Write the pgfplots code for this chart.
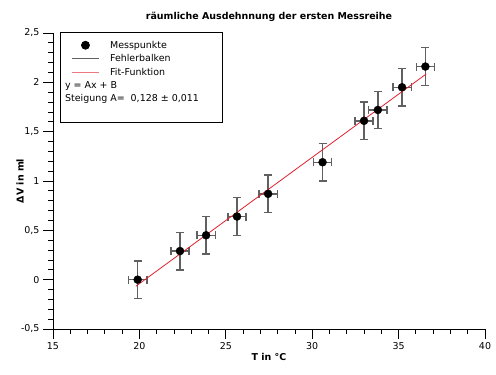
\documentclass[border=0pt]{standalone}
\usepackage{fontspec}
\setmainfont{DejaVu Sans}
\usepackage{pgfplots}
\pgfplotsset{compat=1.18}
\definecolor{fitred}{HTML}{E0202E}
\definecolor{errgray}{HTML}{606060}
\pgfplotstableread{
T V
19.9 0.0
22.35 0.29
23.86 0.45
25.65 0.64
27.45 0.87
30.6 1.19
33.0 1.61
33.8 1.72
35.2 1.95
36.55 2.16
}\messdata
\begin{document}
\begin{tikzpicture}
\begin{axis}[name=ax, at={(0,0)}, anchor=south west,
  scale only axis, width=432bp, height=296bp,
  xmin=15, xmax=40, ymin=-0.5, ymax=2.5,
  axis x line*=bottom, axis y line*=left,
  axis line style={black, line width=0.8bp},
  xtick={15,20,25,30,35,40}, ytick={-0.5,0,0.5,1,1.5,2,2.5},
  minor x tick num=4, minor y tick num=4,
  tick align=outside, major tick length=10bp, minor tick length=5bp,
  tick style={black, line width=0.8bp},
  /pgf/number format/use comma, /pgf/number format/assume math mode=true,
  tick label style={font=\fontsize{9.5}{11}\selectfont},
  title={räumliche Ausdehnnung der ersten Messreihe},
  title style={font=\fontsize{9.5}{11}\selectfont\bfseries, at={(axis description cs:0.5,1)}, anchor=center, yshift=10bp},
  xlabel={T in °C},
  xlabel style={font=\fontsize{9.5}{11}\selectfont\bfseries, at={(axis description cs:0.5,0)}, anchor=center, yshift=-28bp},
  ylabel={ΔV in ml},
  ylabel style={font=\fontsize{9.5}{11}\selectfont\bfseries, at={(axis description cs:-0.0764,0.5)}, anchor=center},
  legend image code/.code={\draw[mark repeat=2,mark phase=2,#1] plot coordinates {(0bp,0bp)(13.5bp,0bp)(27bp,0bp)};},
  legend cell align=left,
  legend style={at={(axis cs:15.4,2.51)}, anchor=north west, draw=black, line width=0.8bp,
    font=\fontsize{9.5}{11}\selectfont, row sep=1.8bp, inner xsep=11bp, inner ysep=7bp,
    nodes={inner sep=1.5bp}},
]
\addplot[draw=none, mark=none, forget plot,
  error bars/.cd, x dir=both, x fixed=0.53, y dir=both, y fixed=0.19,
  error bar style={errgray, line width=1.4bp},
  error mark options={errgray, line width=1.4bp, mark size=4bp, rotate=90}]
  table[x=T, y=V] {\messdata};
\addplot[fitred, line width=0.8bp, forget plot] coordinates {(19.8,-0.066) (36.6,2.085)};
\addplot[only marks, mark=*, mark size=4bp, black, forget plot] table[x=T, y=V] {\messdata};
\addlegendimage{only marks, mark=*, mark size=4bp, black}
\addlegendentry{\hspace{9bp}Messpunkte}
\addlegendimage{errgray, line width=1.3bp}
\addlegendentry{\hspace{9bp}Fehlerbalken}
\addlegendimage{fitred!60, line width=1.3bp}
\addlegendentry{\hspace{9bp}Fit-Funktion}
\addlegendimage{empty legend}
\addlegendentry{\hspace{-36bp}y = Ax + B}
\addlegendimage{empty legend}
\addlegendentry{\hspace{-36bp}\makebox[145bp][l]{Steigung A=\ \ 0,128 ± 0,011}}
\addlegendimage{empty legend}
\addlegendentry{\rule{0pt}{4bp}}
\end{axis}
\path (ax.south west) ++(-53bp,-46bp) rectangle ++(496bp,375bp);
\end{tikzpicture}
\end{document}
